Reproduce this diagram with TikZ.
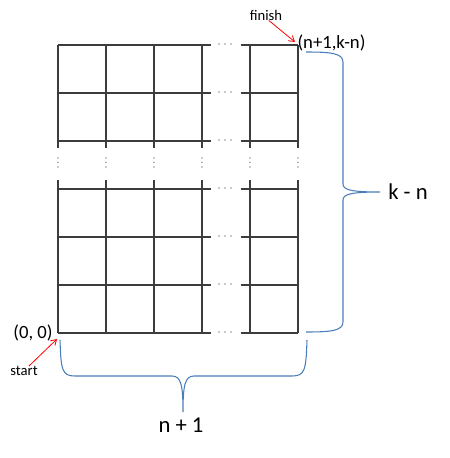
\documentclass[tikz,border=0pt]{standalone}
\usepackage{fontspec}
\setmainfont{Carlito}
\usetikzlibrary{arrows.meta}

\definecolor{gridgray}{RGB}{60,60,60}
\definecolor{dotgray}{RGB}{150,150,150}
\definecolor{braceblue}{RGB}{74,126,187}

\begin{document}
\begin{tikzpicture}[
    x=0.75pt, y=-0.75pt,
    gridline/.style={draw=gridgray, line width=1.1pt},
    gap dot/.style={fill=dotgray, draw=none},
    brace line/.style={draw=braceblue, line width=0.8pt},
    red arrow/.style={draw=red, line width=0.6pt, -{Straight Barb[length=4pt, width=5pt]}},
    point text/.style={inner sep=0pt, font=\fontsize{14}{16}\selectfont},
    note text/.style={inner sep=0pt, font=\fontsize{11}{13}\selectfont},
    size text/.style={inner sep=0pt, font=\fontsize{17}{20}\selectfont}
]
\useasboundingbox (0,0) rectangle (450,458);

\foreach \y in {45,93,141,189,237,285,333} {
    \draw[gridline] (58,\y) -- (211,\y);
    \draw[gridline] (241,\y) -- (298,\y);
    \foreach \x in {219,225,231} \fill[gap dot] (\x,\y-1) circle (0.9);
}
\foreach \x in {58,106,154,202,250,298} {
    \draw[gridline] (\x,45) -- (\x,148);
    \draw[gridline] (\x,180) -- (\x,333);
    \foreach \y in {158,162.5,167} \fill[gap dot] (\x,\y) circle (0.9);
}

\node[point text] (origin) at (33,333) {(0, 0)};
\node[note text] (start) at (24,371) {start};
\node[note text] (finish) at (266,15) {finish};
\node[point text] (corner) at (331.5,42.5) {(n+1,k-n)};
\node[size text] (height) at (408,192) {k - n};
\node[size text] (width) at (181,425) {n + 1};
\coordinate (o) at (57,339);
\coordinate (f) at (295,42);

\draw[red arrow] (start.45) -- (o);
\draw[red arrow] (finish.-63) -- (f);

\draw[brace line] (306,52) .. controls (330,52) and (343,53) .. (343,62) -- (343,184)
    .. controls (343,190) and (352,192) .. (380,192)
    .. controls (352,192) and (343,194) .. (343,200) -- (343,322)
    .. controls (343,331) and (330,332) .. (306,332);
\draw[brace line] (60,340) .. controls (61,370) and (62,376) .. (75,376) -- (172,376)
    .. controls (181,376) and (183,385) .. (183,412)
    .. controls (183,385) and (185,376) .. (194,376) -- (292,376)
    .. controls (305,376) and (306,370) .. (307,340);
\end{tikzpicture}
\end{document}
